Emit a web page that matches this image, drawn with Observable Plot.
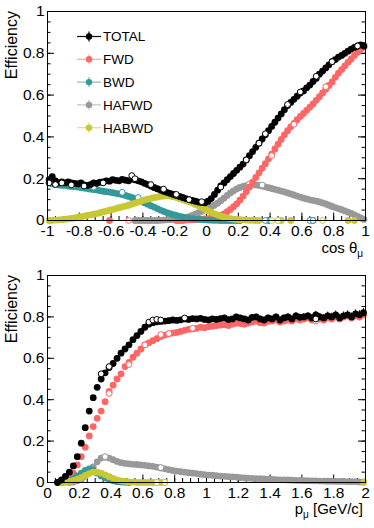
<!DOCTYPE html>
<html><head><meta charset="utf-8">
<script src="https://cdn.jsdelivr.net/npm/d3@7"></script>
<script src="https://cdn.jsdelivr.net/npm/@observablehq/plot@0.6"></script>
<style>html,body{margin:0;padding:0;background:#fff}#chart svg{display:block}</style>
</head><body><div id="chart"></div>
<script>
// ---------- categories / bins ----------
const seriesNames = ["TOTAL", "FWD", "BWD", "HAFWD", "HABWD"];
const cosBins = d3.range(100).map(i => -0.99 + 0.02 * i);      // bin centres, cos theta
const pBins = d3.range(80).map(i => 0.0125 + 0.025 * i);       // bin centres, p [GeV/c]
const cosTicks = [-1, -0.8, -0.6, -0.4, -0.2, 0, 0.2, 0.4, 0.6, 0.8, 1];
const pTicks = [0, 0.2, 0.4, 0.6, 0.8, 1, 1.2, 1.4, 1.6, 1.8, 2];
const effTicks = [0, 0.2, 0.4, 0.6, 0.8, 1];

// ---------- efficiency vs cos theta (filled markers) ----------
const totalCos = [
 0.195,0.21,0.19,0.18,0.185,0.18,0.185,0.18,0.178,0.175,
 0.18,0.17,0.168,0.172,0.18,0.178,0.183,0.185,0.19,0.188,
 0.195,0.192,0.19,0.197,0.193,0.19,0.198,0.195,0.19,0.185,
 0.178,0.172,0.165,0.158,0.152,0.146,0.14,0.135,0.13,0.125,
 0.12,0.115,0.11,0.105,0.1,0.096,0.092,0.088,0.086,0.085,
 0.092,0.105,0.125,0.145,0.165,0.18,0.195,0.21,0.225,0.24,
 0.255,0.27,0.29,0.31,0.33,0.35,0.37,0.39,0.41,0.43,
 0.45,0.47,0.49,0.51,0.53,0.55,0.565,0.58,0.595,0.61,
 0.62,0.635,0.648,0.665,0.68,0.7,0.715,0.73,0.745,0.76,
 0.77,0.782,0.79,0.8,0.81,0.82,0.828,0.835,0.84,0.835];
const fwdCos = [
 null,null,null,null,null,null,null,null,null,null,
 null,null,null,null,null,null,null,null,null,0,
 null,null,null,null,null,null,null,null,null,null,
 null,null,null,null,null,null,null,null,null,null,
 0,0,0,0.002,0.003,0.004,0.005,0.006,0.007,0.008,
 0.009,0.011,0.014,0.018,0.024,0.032,0.042,0.053,0.066,0.08,
 0.097,0.117,0.138,0.16,0.183,0.206,0.228,0.25,0.272,0.295,
 0.318,0.342,0.365,0.388,0.41,0.43,0.448,0.465,0.482,0.498,
 0.512,0.527,0.542,0.558,0.575,0.592,0.61,0.628,0.646,0.663,
 0.685,0.705,0.722,0.74,0.757,0.773,0.79,0.805,0.82,0.83];
const bwdCos = [
 0.18,0.175,0.172,0.17,0.168,0.168,0.165,0.163,0.162,0.16,
 0.158,0.155,0.153,0.15,0.148,0.146,0.143,0.14,0.138,0.136,
 0.133,0.13,0.127,0.124,0.12,0.115,0.11,0.104,0.098,0.092,
 0.085,0.078,0.071,0.064,0.057,0.05,0.044,0.038,0.033,0.028,
 0.024,0.02,0.017,0.014,0.011,0.009,0.007,0.005,0.004,0.003,
 0.002,0.0015,0.001,0.001,0,0,0,0,0,0,
 0,null,null,null,null,null,null,null,null,0,
 null,null,null,null,null,null,null,null,null,null,
 null,null,null,0,null,null,null,null,null,null,
 null,null,null,null,null,null,null,null,null,null];
const hafwdCos = [
 null,null,null,null,null,null,null,null,null,null,
 null,null,null,null,null,null,null,null,null,null,
 null,null,null,null,null,null,null,0,0,0,
 0,0,0,0,0,0.001,0.002,0.003,0.004,0.005,
 0.006,0.008,0.011,0.014,0.019,0.024,0.03,0.037,0.044,0.051,
 0.058,0.065,0.073,0.083,0.095,0.107,0.12,0.132,0.142,0.151,
 0.158,0.163,0.167,0.17,0.171,0.17,0.168,0.165,0.161,0.157,
 0.153,0.149,0.145,0.141,0.137,0.132,0.127,0.122,0.117,0.112,
 0.107,0.103,0.099,0.096,0.093,0.089,0.084,0.079,0.073,0.067,
 0.062,0.057,0.052,0.046,0.04,0.034,0.027,0.02,0.012,0.005];
const habwdCos = [
 0,0.001,0.002,0.003,0.004,0.006,0.008,0.01,0.012,0.015,
 0.018,0.021,0.024,0.027,0.03,0.033,0.037,0.041,0.045,0.049,
 0.053,0.057,0.061,0.065,0.069,0.073,0.078,0.083,0.088,0.093,
 0.098,0.102,0.106,0.109,0.112,0.115,0.117,0.118,0.117,0.114,
 0.11,0.105,0.1,0.095,0.09,0.084,0.077,0.07,0.062,0.054,
 0.046,0.039,0.032,0.026,0.021,0.016,0.012,0.009,0.007,0.005,
 0.004,0.003,0.002,0.001,0.001,0,0,null,null,null,
 null,null,null,0,null,null,0,null,null,null,
 null,null,null,null,null,null,null,null,null,null,
 null,null,null,null,0,null,0,null,null,null];

// ---------- efficiency vs cos theta (open markers, second sample) ----------
const openTotalCosX = [-0.99,-0.95,-0.91,-0.85,-0.77,-0.65,-0.47,-0.45,-0.35,-0.27,-0.19,-0.11,-0.03,0.09,0.25,0.33,0.37,0.51,0.59,0.69,0.79,0.95];
const openTotalCosY = [0.18,0.172,0.18,0.17,0.165,0.18,0.215,0.2,0.172,0.15,0.125,0.1,0.09,0.16,0.29,0.37,0.415,0.555,0.615,0.69,0.76,0.835];
const openFwdCosX = [-0.49,0.41,0.55,0.75];
const openFwdCosY = [0,0.31,0.46,0.64];
const openBwdCosX = [-0.83,-0.71,-0.53,-0.43,0.37,0.65,0.67];
const openBwdCosY = [0.17,0.16,0.135,0.11,0,0,0];
const openHafwdCosX = [0.27,0.35];
const openHafwdCosY = [0.175,0.17];
const openHabwdCosX = [0.41,0.45,0.73];
const openHabwdCosY = [0,0,0];

// ---------- efficiency vs momentum (filled markers) ----------
const totalP = [
 null,null,0,0.012,0.03,0.05,0.08,0.125,0.19,0.265,
 0.345,0.41,0.46,0.5,0.53,0.555,0.575,0.6,0.625,0.645,
 0.665,0.69,0.71,0.73,0.75,0.765,0.772,0.776,0.778,0.78,
 0.782,0.785,0.783,0.786,0.79,0.788,0.792,0.79,0.793,0.788,
 0.785,0.79,0.788,0.792,0.795,0.787,0.79,0.8,0.795,0.79,
 0.785,0.798,0.8,0.79,0.785,0.795,0.79,0.8,0.785,0.795,
 0.8,0.79,0.805,0.798,0.8,0.805,0.795,0.81,0.8,0.795,
 0.805,0.8,0.81,0.795,0.805,0.81,0.8,0.815,0.81,0.82];
const fwdP = [
 null,null,null,0,0.005,0.02,0.045,0.085,0.125,0.17,
 0.225,0.27,0.31,0.345,0.39,0.44,0.47,0.5,0.525,0.56,
 0.58,0.605,0.625,0.645,0.665,0.675,0.685,0.695,0.705,0.712,
 0.718,0.722,0.725,0.73,0.735,0.74,0.742,0.745,0.75,0.748,
 0.752,0.755,0.758,0.76,0.762,0.758,0.765,0.77,0.768,0.765,
 0.77,0.775,0.78,0.772,0.77,0.778,0.78,0.785,0.775,0.78,
 0.785,0.78,0.79,0.785,0.79,0.795,0.785,0.8,0.79,0.785,
 0.795,0.79,0.8,0.79,0.8,0.805,0.795,0.805,0.8,0.81];
const bwdP = [
 null,null,null,0,0.003,0.01,0.02,0.032,0.045,0.058,
 0.066,0.06,0.045,0.032,0.022,0.014,0.008,0.004,0.002,0.001,
 0,null,null,null,null,null,null,null,null,null,
 null,null,null,null,null,null,null,null,null,null,
 null,null,null,null,null,null,null,null,null,null,
 null,null,null,null,null,null,null,null,null,null,
 null,null,null,null,null,null,null,null,null,null,
 null,null,null,null,null,null,null,null,null,null];
const hafwdP = [
 null,null,null,null,null,0,0.002,0.008,0.015,0.03,
 0.05,0.075,0.1,0.118,0.122,0.118,0.11,0.102,0.096,0.092,
 0.09,0.088,0.087,0.085,0.083,0.08,0.078,0.074,0.07,0.066,
 0.062,0.058,0.055,0.052,0.05,0.047,0.045,0.043,0.04,0.038,
 0.036,0.035,0.033,0.031,0.03,0.028,0.027,0.026,0.024,0.022,
 0.021,0.02,0.019,0.018,0.017,0.016,0.015,0.014,0.013,0.013,
 0.012,0.011,0.01,0.01,0.009,0.009,0.008,0.008,0.007,0.007,
 0.006,0.006,0.005,0.005,0.005,0.004,0.004,0.004,0.003,0.003];
const habwdP = [
 null,null,null,0,0.002,0.005,0.01,0.016,0.024,0.034,
 0.043,0.05,0.05,0.045,0.037,0.028,0.02,0.013,0.008,0.005,
 0.003,0.002,0,0,0,0,0,0,0,0,
 null,null,null,null,null,null,null,null,null,null,
 null,null,null,null,null,null,null,null,null,null,
 null,null,null,null,null,null,null,null,null,null,
 null,null,null,null,null,null,null,null,null,null,
 null,null,null,null,null,null,null,null,null,0];
// statistical error of TOTAL / FWD vs momentum
const errP = [
 0.005,0.005,0.005,0.005,0.005,0.005,0.005,0.005,0.005,0.005,
 0.005,0.005,0.005,0.005,0.005,0.005,0.005,0.005,0.005,0.005,
 0.006,0.006,0.006,0.006,0.006,0.006,0.006,0.006,0.006,0.006,
 0.007,0.007,0.008,0.008,0.008,0.009,0.009,0.009,0.01,0.01,
 0.01,0.01,0.011,0.011,0.011,0.011,0.012,0.012,0.012,0.012,
 0.013,0.013,0.013,0.013,0.014,0.014,0.014,0.014,0.015,0.015,
 0.015,0.015,0.016,0.016,0.016,0.016,0.017,0.017,0.017,0.017,
 0.018,0.018,0.018,0.018,0.019,0.019,0.019,0.019,0.02,0.02];

// ---------- efficiency vs momentum (open markers) ----------
const openTotalPX = [0.3375,0.3875,0.6375,0.6625,0.6875,0.7125,0.8625,1.6875];
const openTotalPY = [0.525,0.56,0.775,0.785,0.788,0.785,0.795,0.79];
const openFwdPX = [0.3875,0.5125,0.6125,0.7125,0.7625,0.9125,1.6875];
const openFwdPY = [0.43,0.57,0.665,0.715,0.72,0.745,0.78];
const openHafwdPX = [0.3625,0.7125];
const openHafwdPY = [0.125,0.072];
const openHabwdPX = [0.6875,0.7375];
const openHabwdPY = [0,0];

// ---------- styling ----------
const colors = {TOTAL: "#000000", FWD: "#ff6666", BWD: "#339999", HAFWD: "#999999", HABWD: "#c8c833"};
const legendLine = {TOTAL: "#000000", FWD: "#ffa3a3", BWD: "#7fbcbc", HAFWD: "#c2c2c2", HABWD: "#dede7a"};
const drawOrder = ["HAFWD", "FWD", "BWD", "HABWD", "TOTAL"];
const FONT = "'Liberation Sans', Arial, Helvetica, sans-serif";
const W = 374, H = 264, mL = 47, mR = 9;
const R = 3.4;

function pts(xs, ys) {
  const out = [];
  ys.forEach((y, i) => { if (y !== null) out.push({x: xs[i], y}); });
  return out;
}
const fmt = d => String(Math.round(d * 10) / 10);

function panel(cfg) {
  const iw = W - mL - mR, ih = H - cfg.mTop - cfg.mBottom;
  const effMinor = d3.range(0, 1.0001, 0.05);
  const xMinor = d3.range(cfg.xDomain[0], cfg.xDomain[1] + 1e-9, cfg.xMinorStep);
  const marks = [
    Plot.tickY(effMinor, {y: d => d, insetRight: iw - 3.5, stroke: "#000"}),
    Plot.tickY(effMinor, {y: d => d, insetLeft: iw - 3.5, stroke: "#000"}),
    Plot.tickY(effTicks, {y: d => d, insetRight: iw - 7, stroke: "#000"}),
    Plot.tickY(effTicks, {y: d => d, insetLeft: iw - 7, stroke: "#000"}),
    Plot.tickX(xMinor, {x: d => d, insetTop: ih - 4, stroke: "#000"}),
    Plot.tickX(cfg.xTicks, {x: d => d, insetTop: ih - 7.5, stroke: "#000"}),
    Plot.axisX({ticks: cfg.xTicks, tickSize: 0, tickPadding: 4.5, tickFormat: fmt, fontSize: 15.5, label: null}),
    Plot.axisY({ticks: effTicks, tickSize: 0, tickPadding: 3, tickFormat: fmt, fontSize: 15.5, label: null})
  ];
  if (cfg.errors) {
    for (const e of cfg.errors) {
      marks.push(Plot.ruleX(e.data, {x: "x", y1: d => d.y - d.e, y2: d => d.y + d.e, stroke: e.color, strokeWidth: 1}));
    }
  }
  for (const name of drawOrder) {
    marks.push(Plot.dot(cfg.filled[name], {x: "x", y: "y", r: R, fill: colors[name], stroke: "none"}));
    if (cfg.open[name]) marks.push(Plot.dot(cfg.open[name], {x: "x", y: "y", r: 2.9, fill: "#fff", stroke: colors[name], strokeWidth: 1}));
  }
  marks.push(Plot.frame({stroke: "#000", strokeWidth: 1}));
  const svg = Plot.plot({
    width: W, height: H,
    marginLeft: mL, marginRight: mR, marginTop: cfg.mTop, marginBottom: cfg.mBottom,
    x: {domain: cfg.xDomain},
    y: {domain: [0, 1]},
    style: {fontFamily: FONT, fontSize: "15.5px", background: "#fff", color: "#000"},
    marks
  });
  const s = d3.select(svg);
  // y title (ROOT style: rotated, aligned to top of axis)
  s.append("text").attr("transform", `translate(17,${cfg.mTop}) rotate(-90)`)
    .attr("text-anchor", "end").attr("font-family", FONT).attr("font-size", 16).attr("fill", "#000").text("Efficiency");
  // x title with subscript
  const t = s.append("text").attr("x", W - mR - 2).attr("y", H - cfg.mBottom + cfg.titleGap)
    .attr("text-anchor", "end").attr("font-family", FONT).attr("font-size", 15).attr("fill", "#000");
  cfg.xTitle.forEach(part => {
    const ts = t.append("tspan").text(part.text);
    if (part.sub) ts.attr("font-size", 10).attr("dy", 4);
    if (part.after) ts.attr("dy", -4);
  });
  return svg;
}

const topPanel = panel({
  xDomain: [-1, 1], xTicks: cosTicks, xMinorStep: 0.05, mTop: 11, mBottom: 44, titleGap: 33,
  filled: {TOTAL: pts(cosBins, totalCos), FWD: pts(cosBins, fwdCos), BWD: pts(cosBins, bwdCos), HAFWD: pts(cosBins, hafwdCos), HABWD: pts(cosBins, habwdCos)},
  open: {TOTAL: pts(openTotalCosX, openTotalCosY), FWD: pts(openFwdCosX, openFwdCosY), BWD: pts(openBwdCosX, openBwdCosY), HAFWD: pts(openHafwdCosX, openHafwdCosY), HABWD: pts(openHabwdCosX, openHabwdCosY)},
  xTitle: [{text: "cos\u00a0θ"}, {text: "μ", sub: true}]
});

// legend (top panel)
{
  const s = d3.select(topPanel);
  const g = s.append("g").attr("font-family", FONT).attr("text-anchor", "start");
  seriesNames.forEach((name, k) => {
    const y = 36.5 + 22.8 * k;
    g.append("line").attr("x1", 77).attr("x2", 101).attr("y1", y).attr("y2", y).attr("stroke", legendLine[name]).attr("stroke-width", 1.2);
    g.append("line").attr("x1", 89).attr("x2", 89).attr("y1", y - 5).attr("y2", y + 5).attr("stroke", legendLine[name]).attr("stroke-width", 1.2);
    g.append("circle").attr("cx", 89).attr("cy", y).attr("r", 3.2).attr("fill", colors[name]);
    g.append("text").attr("x", 103).attr("y", y).attr("dy", "0.36em").attr("text-anchor", "start")
      .attr("font-size", 13.5).attr("fill", "#000").text(name);
  });
}

const withErr = (xs, ys) => { const out = []; ys.forEach((y, i) => { if (y !== null) out.push({x: xs[i], y, e: errP[i]}); }); return out; };

const bottomPanel = panel({
  xDomain: [0, 2], xTicks: pTicks, xMinorStep: 0.05, mTop: 11, mBottom: 46, titleGap: 32,
  filled: {TOTAL: pts(pBins, totalP), FWD: pts(pBins, fwdP), BWD: pts(pBins, bwdP), HAFWD: pts(pBins, hafwdP), HABWD: pts(pBins, habwdP)},
  open: {TOTAL: pts(openTotalPX, openTotalPY), FWD: pts(openFwdPX, openFwdPY), HAFWD: pts(openHafwdPX, openHafwdPY), HABWD: pts(openHabwdPX, openHabwdPY)},
  errors: [{data: withErr(pBins, fwdP), color: "#ff8080"}, {data: withErr(pBins, totalP), color: "#000"}],
  xTitle: [{text: "p"}, {text: "μ", sub: true}, {text: "\u00a0[GeV/c]", after: true}]
});

document.getElementById("chart").append(topPanel, bottomPanel);
</script>
</body></html>
